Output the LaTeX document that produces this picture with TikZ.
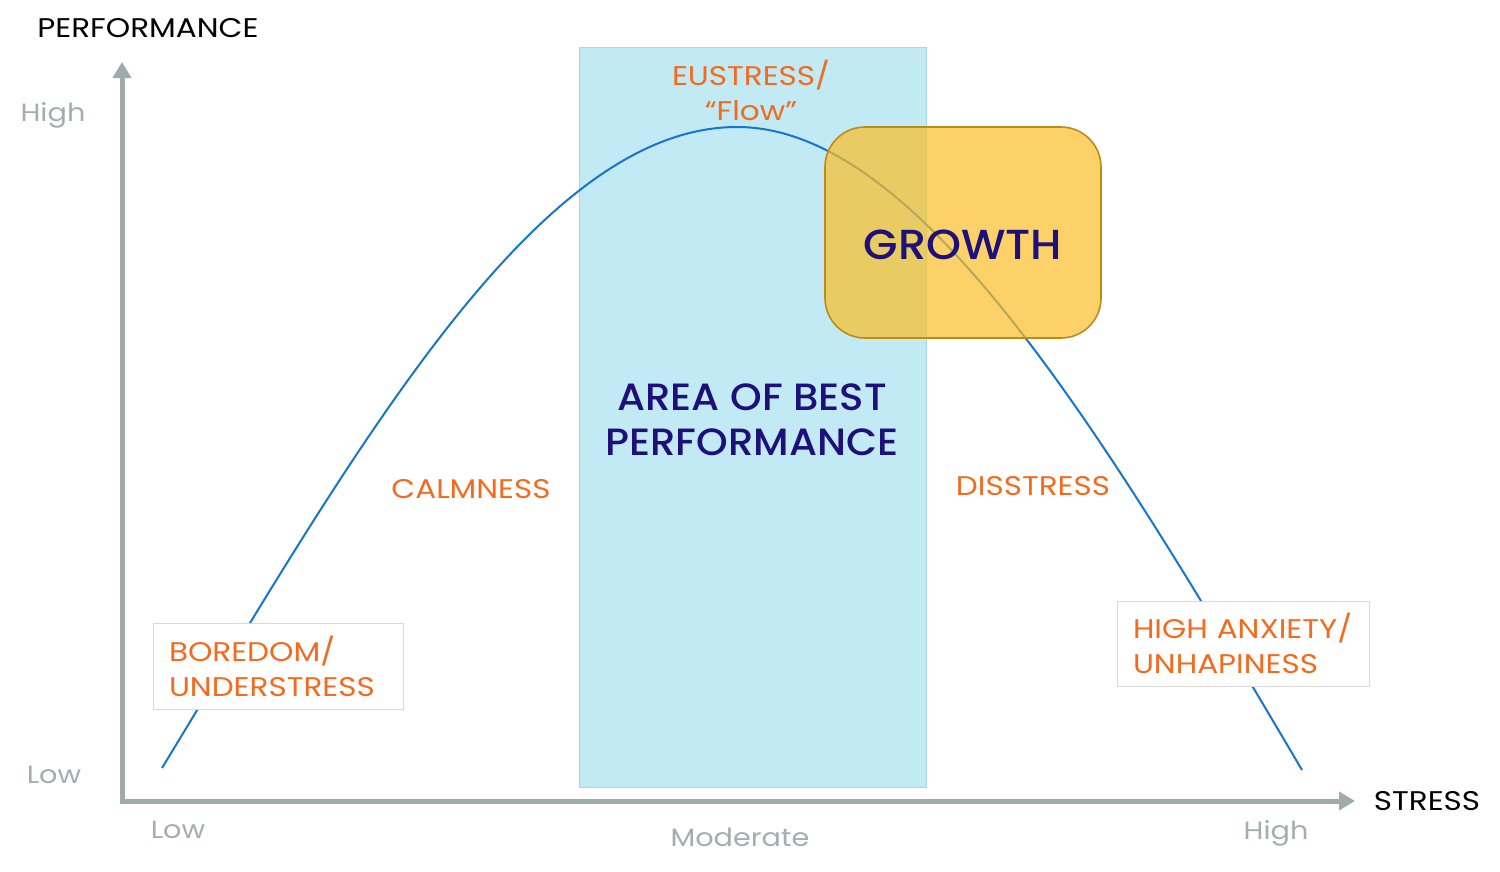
\documentclass[tikz,border=0pt]{standalone}
\usepackage{fontspec}
\setmainfont{Poppins}
\newfontfamily\wide[FakeStretch=1.15]{Poppins}
\newfontfamily\popmed[FakeStretch=1.06]{Poppins Medium}
\usetikzlibrary{arrows.meta}
\definecolor{axisgray}{RGB}{158,171,171}
\definecolor{labgray}{RGB}{163,174,174}
\definecolor{stressorange}{RGB}{242,107,31}
\definecolor{navy}{RGB}{30,15,122}
\definecolor{flowblue}{RGB}{193,234,244}
\definecolor{flowedge}{RGB}{170,215,226}
\definecolor{curveblue}{RGB}{24,116,207}
\definecolor{growfill}{RGB}{251,190,40}
\definecolor{growedge}{RGB}{192,138,26}
\definecolor{boxedge}{RGB}{217,217,217}
\tikzset{
  axisline/.style={line width=5pt, draw=axisgray, -{Triangle[width=18pt,length=16pt]}},
  graylab/.style={text=labgray, font=\wide\fontsize{25}{30}\selectfont, inner sep=0pt},
  blacklab/.style={text=black, font=\wide\fontsize{27}{30}\selectfont, inner sep=0pt},
  orangelab/.style={text=stressorange, font=\wide\fontsize{27}{35}\selectfont, inner sep=0pt, align=center},
  navylab/.style={text=navy, font=\popmed\fontsize{38}{45}\selectfont, inner sep=0pt, align=center},
  labbox/.style={draw=boxedge, line width=1pt, fill=white, text=stressorange,
    font=\wide\fontsize{27}{35}\selectfont, align=left, inner xsep=16pt, inner ysep=0pt},
}
\begin{document}
\begin{tikzpicture}[x=1pt, y=-1pt]
\useasboundingbox (0,0) rectangle (1500,871);
% band of best performance
\node[draw=flowedge, line width=1pt, fill=flowblue, minimum width=347pt, minimum height=740pt, inner sep=0pt] (band) at (752.5,417) {};
% curve
\coordinate (cstart) at (162,768);
\coordinate (cpeak) at (737,127);
\coordinate (cend) at (1302,770);
\draw[curveblue, line width=2pt] (cstart) .. controls (356,449) and (537,127) .. (cpeak)
  .. controls (917,127) and (1098,424) .. (cend);
% axes
\coordinate (ybase) at (122,803.5);
\coordinate (xbase) at (119.5,801);
\coordinate (ytip) at (122,62);
\coordinate (xtip) at (1355,801);
\draw[axisline] (ybase) -- (ytip);
\draw[axisline] (xbase) -- (xtip);
% label boxes
\node[labbox, text width=218pt, minimum height=86pt] (bored) at (278,666) {BOREDOM/\\UNDERSTRESS};
\node[labbox, text width=220pt, minimum height=85pt] (anx) at (1243,643.5) {HIGH ANXIETY/\\UNHAPINESS};
% growth
\node[draw=growedge, line width=1.6pt, fill=growfill, fill opacity=0.7, draw opacity=1,
  rounded corners=40pt, minimum width=276pt, minimum height=211pt, inner sep=0pt] (growbox) at (963,232.5) {};
\node[navylab, font=\popmed\fontsize{42}{45}\selectfont] (growth) at (963,245) {GROWTH};
% texts
\node[blacklab] (perf) at (148,28) {PERFORMANCE};
\node[blacklab] (stress) at (1427,801) {STRESS};
\node[graylab] (yhigh) at (53,115) {High};
\node[graylab] (ylow) at (54,775) {Low};
\node[graylab] (xlow) at (178,830) {Low};
\node[graylab] (xmod) at (740,837) {Moderate};
\node[graylab] (xhigh) at (1276,833) {High};
\node[orangelab] (eu) at (751,90) {EUSTRESS/\\“Flow”};
\node[navylab] (best) at (752,419.5) {AREA OF BEST\\PERFORMANCE};
\node[orangelab] (calm) at (471,489) {CALMNESS};
\node[orangelab] (dis) at (1033,486) {DISSTRESS};
\end{tikzpicture}
\end{document}
